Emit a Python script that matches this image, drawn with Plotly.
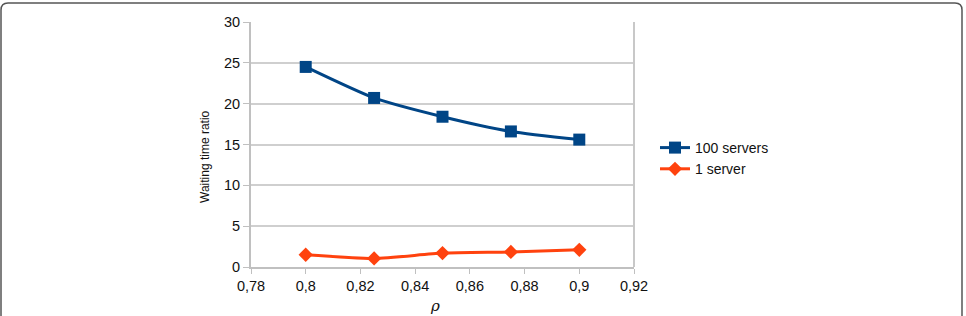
import plotly.graph_objects as go

rho = [0.8, 0.825, 0.85, 0.875, 0.9]
servers_100 = [24.5, 20.7, 18.4, 16.6, 15.6]
server_1 = [1.5, 1.05, 1.7, 1.85, 2.1]

x_ticks = [0.78, 0.8, 0.82, 0.84, 0.86, 0.88, 0.9, 0.92]
x_labels = ["0,78", "0,8", "0,82", "0,84", "0,86", "0,88", "0,9", "0,92"]
y_ticks = [0, 5, 10, 15, 20, 25, 30]

W, H = 966, 316
L, R, T, B = 251, 332, 22, 49
pw = W - L - R
ph = H - T - B

font_family = "Liberation Sans, Arial, sans-serif"

fig = go.Figure()
fig.add_trace(go.Scatter(
    x=rho, y=servers_100, name="100 servers", mode="lines+markers",
    line=dict(color="#004586", width=3, shape="spline", smoothing=0.6),
    marker=dict(symbol="square", size=12, color="#004586"),
))
fig.add_trace(go.Scatter(
    x=rho, y=server_1, name="1 server", mode="lines+markers",
    line=dict(color="#ff420e", width=3, shape="spline", smoothing=0.6),
    marker=dict(symbol="diamond", size=11, color="#ff420e"),
))

def px_x(p):
    return (p - L) / pw

def px_y(p):
    return (H - B - p) / ph

fig.update_layout(
    width=W, height=H,
    margin=dict(l=L, r=R, t=T, b=B),
    paper_bgcolor="white", plot_bgcolor="white",
    font=dict(family=font_family, color="#111111"),
    showlegend=True,
    legend=dict(
        x=px_x(655), y=px_y(132), xanchor="left", yanchor="top",
        font=dict(size=14, family=font_family, color="#111111"),
        bgcolor="rgba(0,0,0,0)", tracegroupgap=0,
    ),
    xaxis=dict(
        range=[0.78, 0.92], tickmode="array", tickvals=x_ticks, ticktext=x_labels,
        showgrid=False, zeroline=False,
        showline=True, linecolor="#c0c0c0", linewidth=2, mirror=False,
        ticks="outside", ticklen=5, tickcolor="#c0c0c0", tickwidth=1,
        tickfont=dict(size=14.5, family=font_family, color="#111111"),
    ),
    yaxis=dict(
        range=[0, 30], tickmode="array", tickvals=y_ticks,
        showgrid=True, gridcolor="#cfcfcf", gridwidth=1.5, zeroline=False,
        showline=True, linecolor="#c0c0c0", linewidth=2,
        ticks="outside", ticklen=6, tickcolor="#c0c0c0", tickwidth=1,
        tickfont=dict(size=14.5, family=font_family, color="#111111"),
    ),
    annotations=[
        dict(text="Waiting time ratio", textangle=-90, xref="paper", yref="paper",
             x=px_x(205), y=px_y(157), xanchor="center", yanchor="middle",
             showarrow=False, font=dict(size=12, family=font_family, color="#111111")),
        dict(text="<i>ρ</i>", xref="paper", yref="paper",
             x=px_x(435), y=px_y(306), xanchor="center", yanchor="middle",
             showarrow=False, font=dict(size=15, family="DejaVu Serif, serif", color="#111111")),
    ],
    shapes=[
        dict(type="line", xref="paper", yref="paper", x0=1, x1=1, y0=0, y1=1,
             line=dict(color="#c8c8c8", width=2)),
        dict(type="path", xref="paper", yref="paper",
             path=(f"M {px_x(1)},{px_y(330)} L {px_x(1)},{px_y(10)} "
                   f"Q {px_x(1)},{px_y(3)} {px_x(8)},{px_y(3)} "
                   f"L {px_x(955)},{px_y(3)} Q {px_x(962)},{px_y(3)} {px_x(962)},{px_y(10)} "
                   f"L {px_x(962)},{px_y(330)}"),
             line=dict(color="#555555", width=1.5)),
    ],
)

fig.write_html("out.html")
